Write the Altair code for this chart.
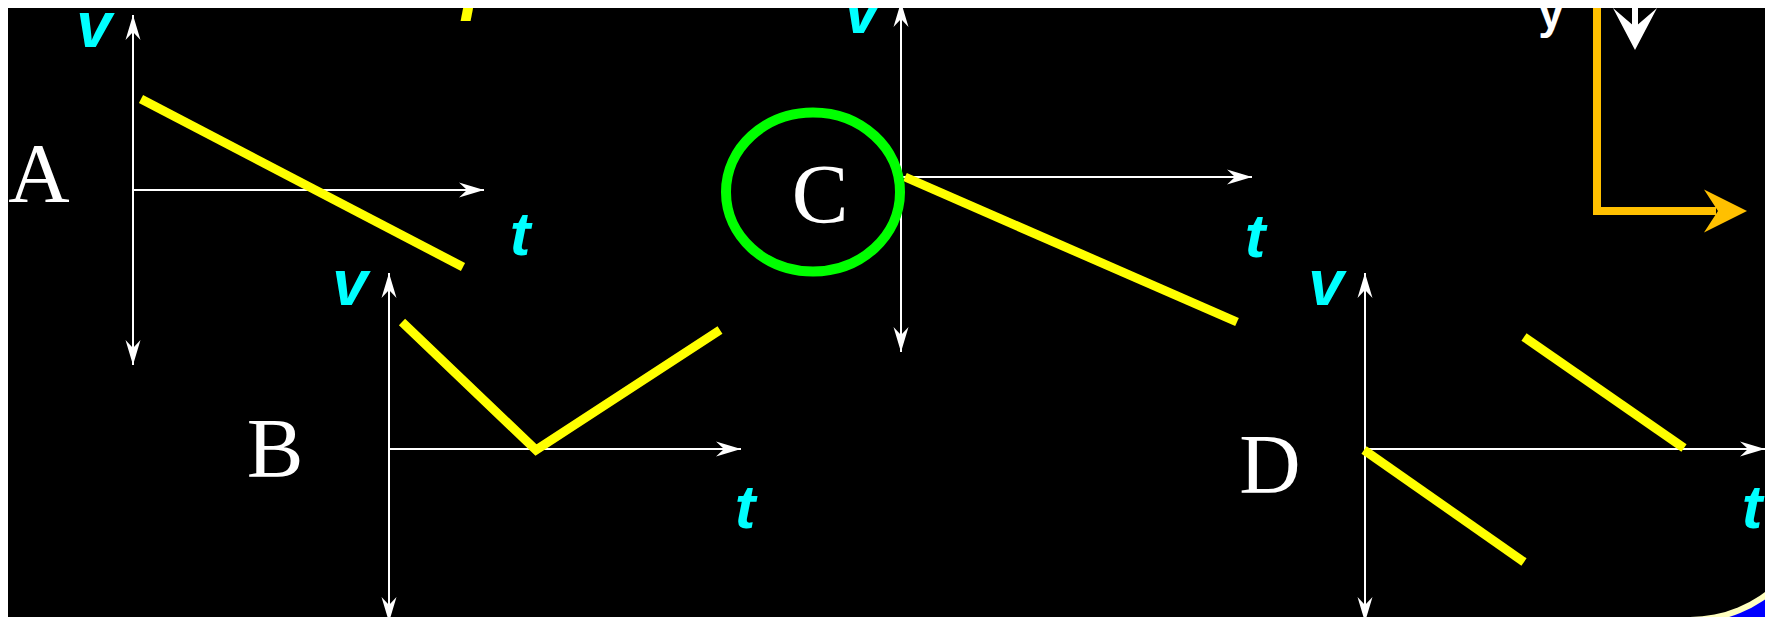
import math
import altair as alt
import pandas as pd

# ---------------- data (reference pixel coordinates) ----------------
# yellow v(t) graphs as polylines
line_id = ["A", "A", "B", "B", "B", "C", "C", "D1", "D1", "D2", "D2"]
line_x = [141, 463, 402, 536, 720, 905, 1237, 1364, 1524, 1524, 1684]
line_y = [99, 267, 322, 450, 330, 177, 322, 450, 562, 337, 448]

# white axes
axis_x1 = [133, 133, 389, 389, 901, 901, 1365, 1365]
axis_y1 = [15, 190, 273, 449, 2, 177, 273, 449]
axis_x2 = [133, 484, 389, 741, 901, 1252, 1365, 1765]
axis_y2 = [365, 190, 622, 449, 352, 177, 622, 449]

# axis arrowheads: tip position and direction (degrees, 0 = up)
head_x = [133, 133, 484, 389, 389, 741, 901, 901, 1252, 1365, 1365, 1765]
head_y = [15, 365, 190, 273, 622, 449, 2, 352, 177, 273, 622, 449]
head_dir = [0, 180, 90, 0, 180, 90, 0, 180, 90, 0, 180, 90]

# labels
panel_letters = ["A", "B", "C", "D"]
letter_x = [39, 275, 820, 1270]
letter_y = [202, 477, 223, 493]

v_labels = ["v", "v", "v", "v"]
v_x = [94, 350, 862, 1326]
v_y = [47, 305, 33, 305]

t_labels = ["t", "t", "t", "t"]
t_x = [520, 745, 1255, 1752]
t_y = [255, 528, 257, 528]

title_text = ["Clicker question ?"]
title_x = [178]
title_y = [6]

# green ellipse around answer C
circle_x = [813]
circle_y = [192]

# orange axes (top right)
orange_x1 = [1597, 1597]
orange_y1 = [0, 211]
orange_x2 = [1597, 1712]
orange_y2 = [211, 211]
orange_head_x = [1747]
orange_head_y = [211]
orange_head_dir = [90]

# white down arrow and y label (top right)
down_x1 = [1635]
down_y1 = [0]
down_x2 = [1635]
down_y2 = [32]
down_head_x = [1635]
down_head_y = [50]
down_head_dir = [180]
y_label = ["y"]
y_label_x = [1551]
y_label_y = [28]

# slide rounded corner (bottom right)
corner_x = [1690]
corner_y = [492]
corner_rect_x1 = [1690]
corner_rect_y1 = [492]
corner_rect_x2 = [1780]
corner_rect_y2 = [630]

# ---------------- chart ----------------
W, H = 1757, 609
xs = alt.Scale(domain=[8, 1765], nice=False, zero=False)
ys = alt.Scale(domain=[8, 617], nice=False, zero=False, reverse=True)


def X(f="x"):
    return alt.X(f + ":Q", scale=xs, axis=None)


def Y(f="y"):
    return alt.Y(f + ":Q", scale=ys, axis=None)


def seg_chart(x1, y1, x2, y2, **mk):
    df = pd.DataFrame({"x": x1, "y": y1, "x2": x2, "y2": y2})
    return alt.Chart(df).mark_rule(**mk).encode(
        x=X(), y=Y(), x2="x2:Q", y2="y2:Q")


ARROW_THIN = "M0,0 L0.6,2 L0,1.36 L-0.6,2 Z"
ARROW_WIDE = "M0,0 L1,2 L0,1.35 L-1,2 Z"
ARROW_DOWN = "M0,0 L1.05,2 L0,1.1 L-1.05,2 Z"
ELLIPSE = ("M-1,0 C-1,-0.505 -0.552,-0.914 0,-0.914 "
           "C0.552,-0.914 1,-0.505 1,0 C1,0.505 0.552,0.914 0,0.914 "
           "C-0.552,0.914 -1,0.505 -1,0 Z")


def head_chart(hx, hy, hd, shape, size, color):
    df = pd.DataFrame({"x": hx, "y": hy, "d": hd})
    return alt.Chart(df).mark_point(
        shape=shape, size=size, filled=True, color=color, opacity=1,
        strokeWidth=0).encode(x=X(), y=Y(), angle=alt.Angle("d:Q", scale=None))


def text_chart(labels, tx, ty, **mk):
    df = pd.DataFrame({"x": tx, "y": ty, "s": labels})
    return alt.Chart(df).mark_text(baseline="alphabetic", **mk).encode(
        x=X(), y=Y(), text="s:N")


corner_blue = alt.Chart(pd.DataFrame({
    "x": corner_rect_x1, "y": corner_rect_y1,
    "x2": corner_rect_x2, "y2": corner_rect_y2})).mark_rect(
    color="#0000FF").encode(x=X(), y=Y(), x2="x2:Q", y2="y2:Q")

corner_df = pd.DataFrame({"x": corner_x, "y": corner_y})
corner_pale = alt.Chart(corner_df).mark_arc(
    theta=math.pi / 2, theta2=math.pi, radius=131, color="#FFFFC0").encode(
    x=X(), y=Y())
corner_black = alt.Chart(corner_df).mark_arc(
    theta=math.pi / 2, theta2=math.pi, radius=125, color="#000000").encode(
    x=X(), y=Y())

axes = seg_chart(axis_x1, axis_y1, axis_x2, axis_y2, color="white", strokeWidth=2)
heads = head_chart(head_x, head_y, head_dir, ARROW_THIN, 625, "white")

line_df = pd.DataFrame({"id": line_id, "x": line_x, "y": line_y,
                        "i": list(range(len(line_x)))})
yellow = alt.Chart(line_df).mark_line(
    color="#FFFF00", strokeWidth=9, strokeCap="butt", strokeJoin="miter").encode(
    x=X(), y=Y(), detail="id:N", order="i:Q")

ellipse = alt.Chart(pd.DataFrame({"x": circle_x, "y": circle_y})).mark_point(
    shape=ELLIPSE, size=174 * 174, filled=False, color="#00FF00", opacity=1,
    strokeWidth=10).encode(x=X(), y=Y())

orange = seg_chart(orange_x1, orange_y1, orange_x2, orange_y2,
                   color="#FFC000", strokeWidth=8, strokeCap="square")
orange_head = head_chart(orange_head_x, orange_head_y, orange_head_dir,
                         ARROW_WIDE, 43 * 43, "#FFC000")

down = seg_chart(down_x1, down_y1, down_x2, down_y2, color="white", strokeWidth=6)
down_head = head_chart(down_head_x, down_head_y, down_head_dir,
                       ARROW_DOWN, 42 * 42, "white")

letters = text_chart(panel_letters, letter_x, letter_y, font="Liberation Serif",
                     fontSize=85, color="white", align="center")
vs = text_chart(v_labels, v_x, v_y, font="Liberation Sans", fontSize=64,
                fontWeight="bold", fontStyle="italic", color="#00FFFF", align="center")
ts = text_chart(t_labels, t_x, t_y, font="Liberation Sans", fontSize=62,
                fontWeight="bold", fontStyle="italic", color="#00FFFF", align="center")
title = text_chart(title_text, title_x, title_y, font="Liberation Sans",
                   fontSize=72, fontWeight="bold", fontStyle="italic",
                   color="#FFFF00", align="left")
ylab = text_chart(y_label, y_label_x, y_label_y, font="Liberation Sans",
                  fontSize=46, fontWeight="bold", color="white", align="center")

chart = alt.layer(
    corner_blue, corner_pale, corner_black,
    axes, yellow, heads, ellipse,
    orange, orange_head, down, down_head,
    letters, vs, ts, title, ylab,
).properties(
    width=W, height=H, background="#000000", padding=0,
    autosize=alt.AutoSizeParams(type="none"),
).configure_view(strokeWidth=0)

chart.save("out.html", embed_options={"renderer": "svg", "actions": False})
